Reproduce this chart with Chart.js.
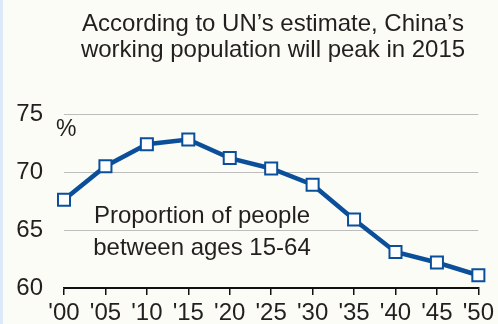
<!DOCTYPE html>
<html>
<head>
<meta charset="utf-8">
<script src="https://cdn.jsdelivr.net/npm/chart.js@4/dist/chart.umd.min.js"></script>
<style>
  html, body { margin: 0; padding: 0; background: #fcfcf7; }
  #wrap { position: relative; width: 498px; height: 324px; background: #fcfcf7; overflow: hidden; }
  #wrap::before { content: ""; position: absolute; left: 0; top: 0; width: 3px; height: 324px; background: #dde9fb; }
  canvas { display: block; }
</style>
</head>
<body>
<div id="wrap"><canvas id="c" width="498" height="324"></canvas></div>
<script>
// Share of population aged 15-64 in China, UN estimates and projections (%)
const years = ["'00", "'05", "'10", "'15", "'20", "'25", "'30", "'35", "'40", "'45", "'50"];
const workingAgeShare = [67.6, 70.5, 72.4, 72.8, 71.2, 70.3, 68.9, 65.9, 63.1, 62.2, 61.1];
const yTicks = [60, 65, 70, 75];

const titleLines = ["According to UN\u2019s estimate, China\u2019s", "working population will peak in 2015"];
const seriesNote = ["Proportion of people", "between ages 15-64"];
const unitLabel = "%";

const FONT = "'Liberation Sans', Arial, sans-serif";
const INK = "#231f20";
const BLUE = "#0b4f9b";

const textPlugin = {
  id: 'texts',
  afterDraw(chart) {
    const ctx = chart.ctx;
    ctx.save();
    ctx.fillStyle = INK;
    ctx.font = "24px " + FONT;
    ctx.textAlign = "center";
    ctx.textBaseline = "alphabetic";
    ctx.fillText(titleLines[0], 273, 31);
    ctx.fillText(titleLines[1], 273, 57);
    ctx.font = "23px " + FONT;
    ctx.textAlign = "left";
    ctx.fillText(unitLabel, 56, 136);
    ctx.font = "24px " + FONT;
    ctx.textAlign = "center";
    ctx.fillText(seriesNote[0], 202, 223);
    ctx.fillText(seriesNote[1], 202, 255);
    ctx.restore();
  }
};

new Chart(document.getElementById('c'), {
  type: 'line',
  data: {
    labels: years,
    datasets: [{
      data: workingAgeShare,
      borderColor: BLUE,
      borderWidth: 4.5,
      pointStyle: 'rect',
      pointRadius: 8.5,
      pointBorderWidth: 2,
      pointBackgroundColor: '#ffffff',
      pointBorderColor: BLUE,
      tension: 0,
      clip: false
    }]
  },
  options: {
    responsive: false,
    animation: false,
    events: [],
    layout: { padding: { top: 114, right: 16, left: 0, bottom: 0 } },
    plugins: { legend: { display: false }, tooltip: { enabled: false }, title: { display: false } },
    scales: {
      x: {
        offset: false,
        border: { display: true, color: '#111', width: 1.5 },
        grid: { drawOnChartArea: false, drawTicks: true, tickLength: 7, color: '#111', lineWidth: 1.5 },
        ticks: { color: INK, font: { family: FONT, size: 24 }, padding: 4, maxRotation: 0, autoSkip: false },
        afterFit(scale) { scale.height = 36; }
      },
      y: {
        min: 60, max: 75,
        afterBuildTicks(scale) { scale.ticks = yTicks.map(v => ({ value: v })); },
        border: { display: false },
        grid: {
          drawTicks: false,
          color: ctx => ctx.tick && ctx.tick.value === 60 ? '#111' : '#bdbdbd',
          lineWidth: 1
        },
        ticks: { color: INK, font: { family: FONT, size: 24 }, padding: 21 },
        afterFit(scale) { scale.width = 64; }
      }
    }
  },
  plugins: [textPlugin]
});
</script>
</body>
</html>
